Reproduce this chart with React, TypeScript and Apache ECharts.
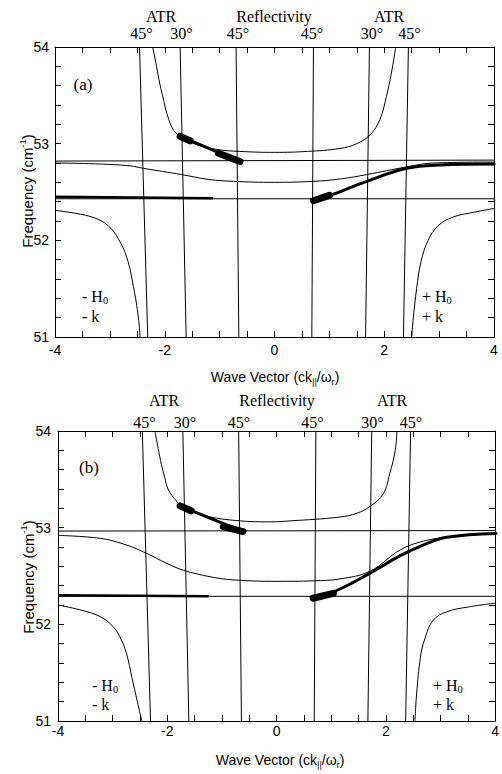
import React, { useEffect, useRef } from "react";
import * as echarts from "echarts";

// ---------- data (panel a) ----------
const aUpperBranch = [[-2.22, 54], [-2.15, 53.8], [-2.09, 53.62], [-2.02, 53.45], [-1.96, 53.31], [-1.84, 53.14], [-1.69, 53.07], [-1.42, 52.99], [-1.05, 52.94], [-0.63, 52.92], [0, 52.91], [0.6, 52.92], [1.19, 52.95], [1.5, 53.0], [1.74, 53.09], [1.92, 53.25], [2.04, 53.49], [2.13, 53.73], [2.21, 54]];
const aMiddleBranch = [[-4, 52.8], [-3.2, 52.79], [-2.63, 52.77], [-2.39, 52.745], [-1.69, 52.68], [-1.2, 52.63], [-0.75, 52.61], [0, 52.6], [0.7, 52.61], [1.2, 52.635], [1.68, 52.68], [2.41, 52.76], [2.89, 52.8], [4, 52.81]];
const aLowerLeft = [[-4, 52.31], [-3.63, 52.28], [-3.27, 52.23], [-3.03, 52.15], [-2.85, 52.02], [-2.69, 51.82], [-2.57, 51.52], [-2.48, 51.2], [-2.45, 51.0]];
const aLowerRight = [[2.5, 51.0], [2.53, 51.2], [2.59, 51.5], [2.67, 51.78], [2.8, 52.0], [2.98, 52.15], [3.25, 52.24], [3.63, 52.29], [4, 52.33]];
const aHorizHigh = [[-4, 52.82], [4, 52.83]];
const aHorizLow = [[-4, 52.43], [4, 52.43]];
const aThickLeft = [[-4, 52.45], [-1.12, 52.435]];
const aThickUpper = [[-1.69, 53.07], [-0.63, 52.815]];
const aBlobUpperStart = [[-1.72, 53.075], [-1.54, 53.03]];
const aBlobUpperEnd = [[-1.02, 52.9], [-0.63, 52.815]];
const aThickRight = [[0.71, 52.41], [1.04, 52.47], [1.68, 52.61], [2.41, 52.745], [3.01, 52.78], [4, 52.79]];
const aBlobRight = [[0.71, 52.41], [1.0, 52.465]];

// ---------- data (panel b) ----------
const bUpperBranch = [[-2.23, 54], [-2.17, 53.82], [-2.11, 53.65], [-2.05, 53.52], [-1.99, 53.4], [-1.83, 53.27], [-1.71, 53.21], [-1.35, 53.13], [-0.86, 53.08], [-0.13, 53.06], [0.24, 53.07], [1.15, 53.11], [1.46, 53.15], [1.7, 53.22], [1.94, 53.35], [2.06, 53.56], [2.16, 53.8], [2.19, 54]];
const bMiddleBranch = [[-4, 52.92], [-3.23, 52.89], [-2.8, 52.83], [-2.44, 52.75], [-2.01, 52.63], [-1.71, 52.56], [-1.2, 52.49], [-0.8, 52.46], [0, 52.445], [0.66, 52.45], [1.15, 52.47], [1.7, 52.55], [2.25, 52.77], [2.67, 52.86], [3.1, 52.9], [4, 52.94]];
const bLowerLeft = [[-4, 52.2], [-3.6, 52.15], [-3.23, 52.08], [-3.0, 51.98], [-2.87, 51.87], [-2.75, 51.7], [-2.65, 51.45], [-2.55, 51.2], [-2.47, 51.0]];
const bLowerRight = [[2.52, 51.0], [2.55, 51.28], [2.62, 51.66], [2.7, 51.85], [2.85, 52.04], [3.1, 52.13], [3.5, 52.18], [4, 52.22]];
const bHorizHigh = [[-4, 52.965], [4, 52.97]];
const bHorizLow = [[-4, 52.29], [4, 52.29]];
const bThickLeft = [[-4, 52.3], [-1.25, 52.29]];
const bThickUpper = [[-1.71, 53.21], [-0.62, 52.96]];
const bBlobUpperStart = [[-1.77, 53.225], [-1.57, 53.175]];
const bBlobUpperEnd = [[-0.98, 53.01], [-0.62, 52.96]];
const bThickRight = [[0.66, 52.27], [1.09, 52.35], [1.7, 52.53], [2.25, 52.71], [2.67, 52.82], [3.1, 52.9], [4, 52.94]];
const bBlobRight = [[0.66, 52.27], [1.03, 52.32]];

// light lines: x at 51 cm-1 and x at 54 cm-1
const lightLineX51 = [-2.31, -1.61, -0.65, 0.68, 1.66, 2.35];
const lightLineX54 = [-2.46, -1.72, -0.7, 0.71, 1.73, 2.44];

// ---------- axes / labels ----------
const xMin = -4, xMax = 4, xStep = 2;
const yMin = 51, yMax = 54, yStep = 1;
const methodLabels = ["ATR", "Reflectivity", "ATR"];
const angleLabels = ["45°", "30°", "45°", "45°", "30°", "45°"];
const panelLabels = ["(a)", "(b)"];
const fieldLabels = ["- H{s|0}", "- k", "+ H{s|0}", "+ k"];
const xName = "Wave Vector (ck{s|||}/ω{s|r})";
const yName = "Frequency (cm{p|-1})";

const SANS = "Liberation Sans";
const SERIF = "Liberation Serif";

const GRIDS = [
  { left: 55, top: 47, width: 439, height: 290 },
  { left: 58, top: 431, width: 438, height: 290 },
];

function xAxisDef(gridIndex: number, position: string, showLabel: boolean, margin: number, visible: boolean) {
  return {
    type: "value", gridIndex, position, min: xMin, max: xMax, interval: xStep,
    axisLine: { show: visible, onZero: false, lineStyle: { color: "#000" } },
    axisTick: { show: visible, inside: true, length: 6, lineStyle: { color: "#000" } },
    minorTick: { show: visible, splitNumber: 4, length: 6, lineStyle: { color: "#000" } },
    axisLabel: { show: visible && showLabel, margin, color: "#000", fontFamily: SANS, fontSize: 14 },
    splitLine: { show: false },
  };
}
function yAxisDef(gridIndex: number, position: string, showLabel: boolean, margin: number, visible: boolean) {
  return {
    type: "value", gridIndex, position, min: yMin, max: yMax, interval: yStep,
    axisLine: { show: visible, onZero: false, lineStyle: { color: "#000" } },
    axisTick: { show: visible, inside: true, length: 6, lineStyle: { color: "#000" } },
    minorTick: { show: visible, splitNumber: 5, length: 6, lineStyle: { color: "#000" } },
    axisLabel: { show: visible && showLabel, margin, color: "#000", fontFamily: SANS, fontSize: 14 },
    splitLine: { show: false },
  };
}
function axes(visible: boolean) {
  return {
    xAxis: [
      xAxisDef(0, "bottom", true, 6, visible), xAxisDef(0, "top", false, 6, visible),
      xAxisDef(1, "bottom", true, 3, visible), xAxisDef(1, "top", false, 6, visible),
    ],
    yAxis: [
      yAxisDef(0, "left", true, 6, visible), yAxisDef(0, "right", false, 6, visible),
      yAxisDef(1, "left", true, 7, visible), yAxisDef(1, "right", false, 7, visible),
    ],
  };
}

function line(data: number[][], panel: number, width: number, smooth: number | boolean = false, cap = "butt") {
  return {
    type: "line", data, xAxisIndex: panel * 2, yAxisIndex: panel * 2,
    showSymbol: false, smooth,
    lineStyle: { color: "#000", width, cap },
  };
}

function buildSeries() {
  const s: any[] = [];
  [0, 1].forEach((p) => {
    lightLineX51.forEach((x51, i) => {
      s.push(line([[x51, yMin], [lightLineX54[i], yMax]], p, 1));
    });
  });
  // panel a
  s.push(line(aHorizLow, 0, 1));
  s.push(line(aUpperBranch, 0, 1, 0.4));
  s.push(line(aMiddleBranch, 0, 1, 0.4));
  s.push(line(aLowerLeft, 0, 1, 0.4));
  s.push(line(aLowerRight, 0, 1, 0.4));
  s.push(line(aThickLeft, 0, 2.5));
  s.push(line(aThickUpper, 0, 3, false, "round"));
  s.push(line(aBlobUpperStart, 0, 7, false, "round"));
  s.push(line(aBlobUpperEnd, 0, 7, false, "round"));
  s.push(line(aThickRight, 0, 3, 0.4, "round"));
  s.push(line(aBlobRight, 0, 7, false, "round"));
  // panel b
  s.push(line(bHorizLow, 1, 1));
  s.push(line(bUpperBranch, 1, 1, 0.4));
  s.push(line(bMiddleBranch, 1, 1, 0.4));
  s.push(line(bLowerLeft, 1, 1, 0.4));
  s.push(line(bLowerRight, 1, 1, 0.4));
  s.push(line(bThickLeft, 1, 2.5));
  s.push(line(bThickUpper, 1, 3, false, "round"));
  s.push(line(bBlobUpperStart, 1, 7, false, "round"));
  s.push(line(bBlobUpperEnd, 1, 7, false, "round"));
  s.push(line(bThickRight, 1, 3, 0.4, "round"));
  s.push(line(bBlobRight, 1, 7, false, "round"));
  return s;
}

function txt(text: string, x: number, y: number, family: string, size: number, align = "center", extra: any = {}) {
  return {
    type: "text", x, y, silent: true, ...extra,
    style: {
      text, fill: "#000", fontFamily: family, fontSize: size, align, verticalAlign: "middle", lineHeight: 18,
      rich: {
        s: { fontFamily: family, fontSize: size * 0.65, lineHeight: 8, verticalAlign: "bottom", fill: "#000" },
        p: { fontFamily: family, fontSize: size * 0.62, lineHeight: 8, verticalAlign: "top", fill: "#000" },
      },
    },
  };
}

function buildGraphic() {
  const g: any[] = [];
  const panels = [
    { methY: 16, angY: 33, methX: [161, 274, 389], angX: [141.5, 181.5, 238, 312, 372, 409.5], panel: [83, 84], fieldL: 82, fieldR: 422, fieldY: [296, 316], xName: [275, 377], yName: [27, 191] },
    { methY: 400, angY: 422, methX: [164, 277, 392], angX: [144.5, 185, 239, 312.5, 372.5, 411], panel: [89, 467], fieldL: 92, fieldR: 433, fieldY: [685, 704], xName: [280, 760], yName: [28, 577] },
  ];
  panels.forEach((P, pi) => {
    methodLabels.forEach((t, i) => g.push(txt(t, P.methX[i], P.methY, SERIF, 16)));
    angleLabels.forEach((t, i) => g.push(txt(t, P.angX[i], P.angY, SERIF, 16)));
    g.push(txt(panelLabels[pi], P.panel[0], P.panel[1], SERIF, 17));
    g.push(txt(fieldLabels[0], P.fieldL, P.fieldY[0], SERIF, 16, "left"));
    g.push(txt(fieldLabels[1], P.fieldL, P.fieldY[1], SERIF, 16, "left"));
    g.push(txt(fieldLabels[2], P.fieldR, P.fieldY[0], SERIF, 16, "left"));
    g.push(txt(fieldLabels[3], P.fieldR, P.fieldY[1], SERIF, 16, "left"));
    g.push(txt(xName, P.xName[0], P.xName[1], SANS, 14));
    g.push(txt(yName, P.yName[0], P.yName[1], SANS, 15, "center", { rotation: Math.PI / 2 }));
  });
  return g;
}

const boxStyle: any = { position: "fixed", left: 0, top: 0, width: 502, height: 774 };

export default function App() {
  const frameRef = useRef<HTMLDivElement>(null);
  const plotRef = useRef<HTMLDivElement>(null);
  useEffect(() => {
    // frame chart: axes, ticks, tick labels and the two upper horizontal lines
    const frame = echarts.init(frameRef.current!, null, { renderer: "svg" });
    frame.setOption({
      animation: false,
      grid: GRIDS,
      ...axes(true),
      series: [
        { type: "line", data: aHorizHigh, xAxisIndex: 0, yAxisIndex: 0, showSymbol: false, lineStyle: { color: "#000", width: 1 } },
        { type: "line", data: bHorizHigh, xAxisIndex: 2, yAxisIndex: 2, showSymbol: false, lineStyle: { color: "#000", width: 1 } },
      ],
    });
    // plot chart on top: curves and annotations, same grids and scales
    const plot = echarts.init(plotRef.current!, null, { renderer: "svg" });
    plot.setOption({
      animation: false,
      grid: GRIDS,
      ...axes(false),
      series: buildSeries(),
      graphic: buildGraphic(),
    });
    return () => {
      frame.dispose();
      plot.dispose();
    };
  }, []);
  return (
    <div style={{ ...boxStyle, background: "#fff" }}>
      <div ref={frameRef} style={boxStyle} />
      <div ref={plotRef} style={{ ...boxStyle, pointerEvents: "none" }} />
    </div>
  );
}
